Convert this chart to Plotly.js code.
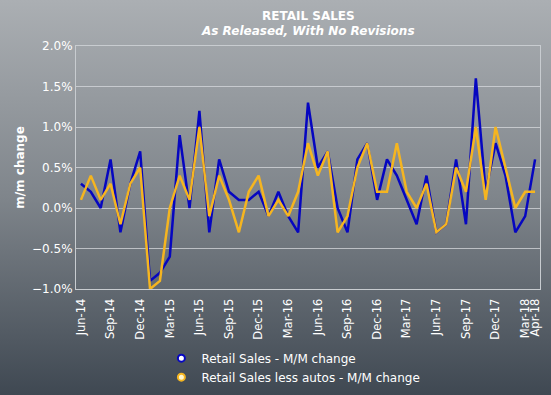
<!DOCTYPE html>
<html>
<head>
<meta charset="utf-8">
<script src="https://cdn.plot.ly/plotly-3.0.1.min.js"></script>
<style>
html,body{margin:0;padding:0;}
body{width:551px;height:395px;background:linear-gradient(to bottom,#abafb3 0%,#7f858b 50%,#3f4852 100%);}
#chart{width:551px;height:395px;}
</style>
</head>
<body>
<div id="chart"></div>
<script>
const months = ["Jun-14","Jul-14","Aug-14","Sep-14","Oct-14","Nov-14","Dec-14",
"Jan-15","Feb-15","Mar-15","Apr-15","May-15","Jun-15","Jul-15","Aug-15","Sep-15","Oct-15","Nov-15","Dec-15",
"Jan-16","Feb-16","Mar-16","Apr-16","May-16","Jun-16","Jul-16","Aug-16","Sep-16","Oct-16","Nov-16","Dec-16",
"Jan-17","Feb-17","Mar-17","Apr-17","May-17","Jun-17","Jul-17","Aug-17","Sep-17","Oct-17","Nov-17","Dec-17",
"Jan-18","Feb-18","Mar-18","Apr-18"];

const retailSales = [0.3,0.2,0.0,0.6,-0.3,0.3,0.7,
-0.9,-0.8,-0.6,0.9,0.0,1.2,-0.3,0.6,0.2,0.1,0.1,0.2,
-0.1,0.2,-0.1,-0.3,1.3,0.5,0.7,0.0,-0.3,0.6,0.8,0.1,
0.6,0.4,0.1,-0.2,0.4,-0.3,-0.2,0.6,-0.2,1.6,0.2,0.8,
0.4,-0.3,-0.1,0.6];

const retailLessAutos = [0.1,0.4,0.1,0.3,-0.2,0.3,0.5,
-1.0,-0.9,0.0,0.4,0.1,1.0,-0.1,0.4,0.1,-0.3,0.2,0.4,
-0.1,0.1,-0.1,0.2,0.8,0.4,0.7,-0.3,-0.1,0.5,0.8,0.2,
0.2,0.8,0.2,0.0,0.3,-0.3,-0.2,0.5,0.2,1.0,0.1,1.0,
0.5,0.0,0.2,0.2];

const tickMonths = ["Jun-14","Sep-14","Dec-14","Mar-15","Jun-15","Sep-15","Dec-15","Mar-16","Jun-16","Sep-16","Dec-16","Mar-17","Jun-17","Sep-17","Dec-17","Mar-18","Apr-18"];

const yTicks = [-1.0,-0.5,0,0.5,1.0,1.5,2.0];

const seriesNames = ["Retail Sales - M/M change","Retail Sales less autos - M/M change"];
const titleText = "RETAIL SALES";
const subtitleText = "As Released, With No Revisions";
const blue = "#0606c0";
const gold = "#f5b520";
const font = "DejaVu Sans, Verdana, sans-serif";

const traces = [
  {x: months, y: retailSales.map(v => v / 100), type: "scatter", mode: "lines", line: {color: blue, width: 2.5}, showlegend: false, hoverinfo: "skip"},
  {x: months, y: retailLessAutos.map(v => v / 100), type: "scatter", mode: "lines", line: {color: gold, width: 2.5}, showlegend: false, hoverinfo: "skip"},
  {x: [months[0]], y: [null], type: "scatter", mode: "markers", name: seriesNames[0],
   marker: {color: "#ffffff", size: 7, symbol: "circle", line: {color: blue, width: 2}}},
  {x: [months[0]], y: [null], type: "scatter", mode: "markers", name: seriesNames[1],
   marker: {color: "#fff6d0", size: 7, symbol: "circle", line: {color: gold, width: 2}}}
];

const layout = {
  width: 551, height: 395,
  paper_bgcolor: "rgba(0,0,0,0)",
  plot_bgcolor: "rgba(0,0,0,0)",
  margin: {l: 76, r: 11, t: 46, b: 106, autoexpand: false},
  font: {family: font, color: "#ffffff", size: 12},
  annotations: [
    {text: "<b>" + titleText + "</b>", xref: "paper", yref: "paper", x: 0.5, y: 1, yshift: 30,
     xanchor: "center", yanchor: "middle", showarrow: false, font: {family: font, size: 12, color: "#ffffff"}},
    {text: "<b><i>" + subtitleText + "</i></b>", xref: "paper", yref: "paper", x: 0.5, y: 1, yshift: 15,
     xanchor: "center", yanchor: "middle", showarrow: false, font: {family: font, size: 12, color: "#ffffff"}}
  ],
  xaxis: {
    type: "category",
    range: [-0.5, 46.5],
    tickmode: "array",
    tickvals: tickMonths,
    ticktext: tickMonths,
    tickangle: -90,
    tickfont: {family: font, size: 11.5, color: "#ffffff"},
    showgrid: false,
    showline: true, linecolor: "#c8ccd0", linewidth: 1, mirror: true,
    ticks: "outside", ticklen: 4, tickcolor: "rgba(0,0,0,0)", zeroline: false, automargin: false
  },
  yaxis: {
    range: [-0.01, 0.02],
    tickmode: "array",
    tickvals: yTicks.map(v => v / 100),
    tickformat: ".1%",
    tickfont: {family: font, size: 12, color: "#ffffff"},
    showgrid: true, gridcolor: "rgba(215,218,222,0.75)", gridwidth: 1,
    showline: true, linecolor: "#c8ccd0", linewidth: 1, mirror: true,
    zeroline: false, ticks: "", automargin: false,
    title: {text: "<b>m/m change</b>", font: {family: font, size: 12, color: "#ffffff"}, standoff: 4}
  },
  legend: {
    orientation: "v",
    x: 0.184, xanchor: "left",
    y: -0.225, yanchor: "top",
    font: {family: font, size: 12, color: "#ffffff"},
    bgcolor: "rgba(0,0,0,0)",
    itemwidth: 30,
    tracegroupgap: 0
  }
};

Plotly.newPlot("chart", traces, layout, {displayModeBar: false, staticPlot: true});
</script>
</body>
</html>
